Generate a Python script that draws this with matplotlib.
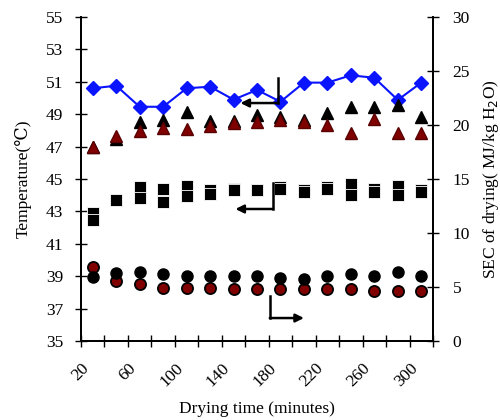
import numpy as np
import matplotlib
matplotlib.use("Agg")
import matplotlib.pyplot as plt

plt.rcParams['font.family'] = ['Liberation Serif', 'DejaVu Serif']

# drying time (minutes)
time_min = [30, 50, 70, 90, 110, 130, 150, 170, 190, 210, 230, 250, 270, 290, 310]

# temperature series (left axis, degC)
temp_blue = [50.6, 50.76, 49.46, 49.46, 50.6, 50.7, 49.9, 50.5, 49.77, 50.95, 50.95, 51.4, 51.25, 49.88, 50.95]
temp_tri_black = [46.95, 47.5, 48.54, 48.64, 49.15, 48.6, 48.6, 48.95, 48.85, 48.64, 49.1, 49.46, 49.46, 49.57, 48.81]
temp_tri_red = [46.96, 47.67, 47.96, 48.17, 48.09, 48.29, 48.46, 48.54, 48.64, 48.54, 48.33, 47.86, 48.7, 47.86, 47.86]
temp_sq_a = [42.9, 43.7, 44.5, 44.4, 44.6, 44.3, 44.4, 44.3, 44.5, 44.3, 44.5, 44.7, 44.4, 44.6, 44.3]
temp_sq_b = [42.5, 43.7, 43.8, 43.6, 43.95, 44.1, 44.3, 44.3, 44.4, 44.2, 44.4, 44.0, 44.2, 44.0, 44.2]

# SEC of drying (right axis, MJ/kg H2O)
sec_black = [5.95, 6.27, 6.42, 6.21, 6.0, 6.0, 6.0, 6.0, 5.87, 5.72, 6.0, 6.18, 6.0, 6.36, 6.0]
sec_red = [6.83, 5.55, 5.25, 4.88, 4.88, 4.94, 4.79, 4.79, 4.79, 4.79, 4.79, 4.79, 4.64, 4.64, 4.64]

fig = plt.figure(figsize=(5, 4.2), dpi=100)
ax = fig.add_axes([0.162, 0.188, 0.704, 0.7715])
ax2 = ax.twinx()

ax.plot(time_min, temp_blue, color='#0a14ff', lw=1.5, marker='D', ms=7.5,
        mfc='#0a14ff', mec='#0a14ff', zorder=3)
ax.plot(time_min, temp_tri_black, ls='none', marker='^', ms=9, color='black', zorder=3)
ax.plot(time_min, temp_tri_red, ls='none', marker='^', ms=9, mfc='#800000', mec='#5a0000', zorder=4)
ax.plot(time_min, temp_sq_a, ls='none', marker='s', ms=9, mfc='black', mec='white', mew=0.6, zorder=3)
ax.plot(time_min, temp_sq_b, ls='none', marker='s', ms=9, mfc='black', mec='white', mew=0.6, zorder=3)

ax2.plot(time_min, sec_red, ls='none', marker='o', ms=8, mfc='#800000', mec='black', mew=1.3, zorder=3)
ax2.plot(time_min, sec_black, ls='none', marker='o', ms=8, mfc='black', mec='black', zorder=4)

ax.set_xlim(20, 320)
ax.set_ylim(35, 55)
ax2.set_ylim(0, 30)
ax.set_yticks(np.arange(35, 56, 2))
ax2.set_yticks(np.arange(0, 31, 5))
xt = list(range(20, 321, 20))
ax.set_xticks(xt)
ax.set_xticklabels([str(v) if (v - 20) % 40 == 0 and v <= 300 else '' for v in xt],
                   rotation=45, ha='right', rotation_mode='anchor')

for a in (ax, ax2):
    a.spines['top'].set_visible(False)
    a.spines['left'].set_linewidth(1.3)
    a.spines['bottom'].set_linewidth(1.3)
    a.spines['right'].set_linewidth(1.3)
    a.tick_params(direction='inout', length=8, width=1, labelsize=12.5)
ax.tick_params(axis='y', pad=9)
ax2.tick_params(axis='y', pad=10)
ax.tick_params(axis='x', pad=10)

ax.set_ylabel('Temperature(\u2103)', fontsize=12.5, labelpad=10)
ax2.set_ylabel('SEC of drying( MJ/kg H$_2$O)', fontsize=12.5, labelpad=8)
ax.set_xlabel('Drying time (minutes)', fontsize=12.5, labelpad=8)

# axis indicator arrows
arr = dict(arrowstyle='-|>', color='black', lw=1.8, mutation_scale=12, shrinkA=0, shrinkB=0)
ax.plot([187.5, 187.5], [51.23, 49.69], color='black', lw=1.8, zorder=5)
ax.annotate('', xy=(155.9, 49.69), xytext=(187.5, 49.69), arrowprops=arr, zorder=5)
ax.plot([183.5, 183.5], [44.75, 43.15], color='black', lw=1.8, zorder=5)
ax.annotate('', xy=(151.6, 43.15), xytext=(183.5, 43.15), arrowprops=arr, zorder=5)
ax.plot([180.9, 180.9], [37.78, 36.42], color='black', lw=1.8, zorder=5)
ax.annotate('', xy=(210, 36.42), xytext=(180.9, 36.42), arrowprops=arr, zorder=5)

fig.savefig('out.png', dpi=100)
